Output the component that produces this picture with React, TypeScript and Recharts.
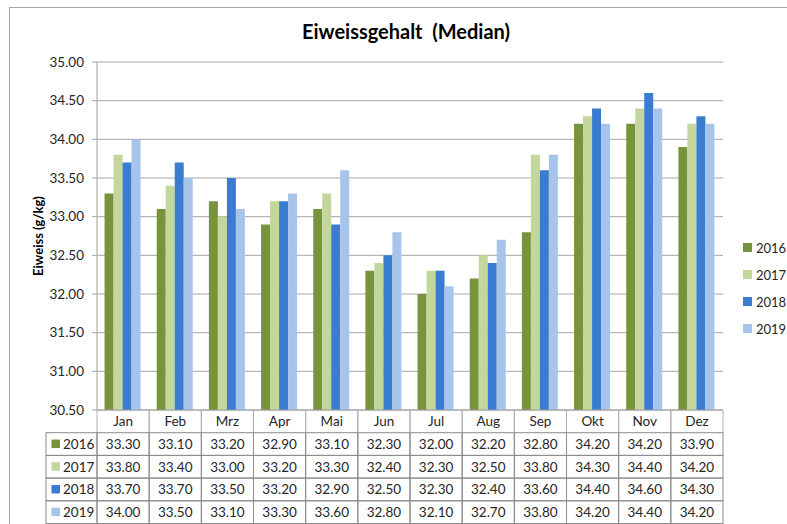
import React from 'react';
import { BarChart, Bar, XAxis, YAxis, CartesianGrid, Legend } from 'recharts';

const months = ['Jan', 'Feb', 'Mrz', 'Apr', 'Mai', 'Jun', 'Jul', 'Aug', 'Sep', 'Okt', 'Nov', 'Dez'];
const v2016 = [33.3, 33.1, 33.2, 32.9, 33.1, 32.3, 32.0, 32.2, 32.8, 34.2, 34.2, 33.9];
const v2017 = [33.8, 33.4, 33.0, 33.2, 33.3, 32.4, 32.3, 32.5, 33.8, 34.3, 34.4, 34.2];
const v2018 = [33.7, 33.7, 33.5, 33.2, 32.9, 32.5, 32.3, 32.4, 33.6, 34.4, 34.6, 34.3];
const v2019 = [34.0, 33.5, 33.1, 33.3, 33.6, 32.8, 32.1, 32.7, 33.8, 34.2, 34.4, 34.2];
const yTicks = [30.5, 31, 31.5, 32, 32.5, 33, 33.5, 34, 34.5, 35];

const seriesNames = ['2016', '2017', '2018', '2019'];
const seriesValues = [v2016, v2017, v2018, v2019];
const seriesColors = ['#77933C', '#C3D69B', '#3A7DD0', '#A7C5EB'];

const data = months.map((m, i) => ({
  month: m,
  '2016': v2016[i],
  '2017': v2017[i],
  '2018': v2018[i],
  '2019': v2019[i],
}));

const W = 787;
const H = 524;
const MARGIN = { top: 62, right: 64, bottom: 94, left: 37 };
const Y_AXIS_W = 60;
const PLOT_W = W - MARGIN.left - MARGIN.right - Y_AXIS_W;
const COL_W = PLOT_W / months.length;
const HEAD_H = 22.7;
const ROW_H = 22.7;
const ROWHEAD_W = 51;
const FONT = 'Lato, "Open Sans", sans-serif';
const FS = 13.5;
const TEXT = '#262626';

const TableTick = (props: any) => {
  const { x, y, payload, index } = props;
  const left = x - COL_W / 2;
  const right = x + COL_W / 2;
  const els: any[] = [];
  els.push(<line key="hl" x1={left} x2={left} y1={y} y2={y + HEAD_H} stroke="#B0B0B0" />);
  els.push(<line key="hr" x1={right} x2={right} y1={y} y2={y + HEAD_H} stroke="#B0B0B0" />);
  els.push(
    <text key="ht" x={x} y={y + HEAD_H / 2 + 5} textAnchor="middle" fontFamily={FONT} fontSize={FS} fill={TEXT}>
      {payload.value}
    </text>
  );
  seriesValues.forEach((vals, r) => {
    const top = y + HEAD_H + r * ROW_H;
    els.push(<rect key={'c' + r} x={left} y={top} width={COL_W} height={ROW_H} fill="none" stroke="#8C8C8C" />);
    els.push(
      <text key={'t' + r} x={x} y={top + ROW_H / 2 + 5} textAnchor="middle" fontFamily={FONT} fontSize={FS} fill={TEXT}>
        {vals[payload.index ?? index].toFixed(2)}
      </text>
    );
    if (index === 0) {
      const rl = left - ROWHEAD_W;
      els.push(<rect key={'rh' + r} x={rl} y={top} width={ROWHEAD_W} height={ROW_H} fill="none" stroke="#8C8C8C" />);
      els.push(<rect key={'rs' + r} x={rl + 5.5} y={top + ROW_H / 2 - 4.5} width={8.5} height={8.5} fill={seriesColors[r]} />);
      els.push(
        <text key={'rt' + r} x={rl + 17} y={top + ROW_H / 2 + 5} fontFamily={FONT} fontSize={FS} fill={TEXT}>
          {seriesNames[r]}
        </text>
      );
    }
  });
  return <g>{els}</g>;
};

const LegendContent = () => (
  <div style={{ fontFamily: FONT, fontSize: 13, color: TEXT }}>
    {seriesNames.map((n, i) => (
      <div key={n} style={{ display: 'flex', alignItems: 'center', height: 27, whiteSpace: 'nowrap' }}>
        <div style={{ width: 9, height: 9, background: seriesColors[i], marginRight: 4, flex: 'none' }} />
        <span>{n}</span>
      </div>
    ))}
  </div>
);

export default function App() {
  return (
    <div style={{ position: 'absolute', left: 0, top: 0, width: W, height: H, overflow: 'hidden', background: '#fff' }}>
      <div
        style={{
          position: 'absolute',
          left: 9,
          top: 7,
          width: 900,
          height: 700,
          borderLeft: '1px solid #A6A6A6',
          borderTop: '1px solid #A6A6A6',
        }}
      />
      <BarChart
        width={W}
        height={H}
        data={data}
        margin={MARGIN}
        barCategoryGap="14.5%"
        barGap={0}
      >
        <CartesianGrid vertical={false} stroke="#A6A6A6" />
        <XAxis
          dataKey="month"
          height={20}
          interval={0}
          tickSize={0}
          tickMargin={0}
          tickLine={false}
          axisLine={{ stroke: '#A0A0A0' }}
          tick={TableTick}
        />
        <YAxis
          width={Y_AXIS_W}
          domain={[30.5, 35]}
          ticks={yTicks}
          allowDataOverflow
          tickFormatter={(v: number) => v.toFixed(2)}
          tickSize={5}
          tickMargin={8}
          tickLine={{ stroke: '#A0A0A0' }}
          axisLine={{ stroke: '#BFBFBF', strokeWidth: 1.5 }}
          tick={{ fontFamily: FONT, fontSize: FS, fill: TEXT }}
        />
        {seriesNames.map((n, i) => (
          <Bar key={n} dataKey={n} fill={seriesColors[i]} isAnimationActive={false} />
        ))}
        <Legend
          layout="vertical"
          align="center"
          verticalAlign="middle"
          wrapperStyle={{ left: 743, top: 234, width: 44 }}
          content={LegendContent}
        />
      </BarChart>
      <div
        style={{
          position: 'absolute',
          left: 0,
          top: 19,
          width: 812,
          textAlign: 'center',
          fontFamily: FONT,
          fontWeight: 'bold',
          fontSize: 20,
          color: '#000',
          whiteSpace: 'pre',
        }}
      >
        {'Eiweissgehalt  (Median)'}
      </div>
      <div
        style={{
          position: 'absolute',
          left: 38,
          top: 236,
          transform: 'translate(-50%, -50%) rotate(-90deg)',
          fontFamily: FONT,
          fontWeight: 'bold',
          fontSize: 13,
          color: '#000',
          whiteSpace: 'nowrap',
        }}
      >
        Eiweiss (g/kg)
      </div>
    </div>
  );
}
